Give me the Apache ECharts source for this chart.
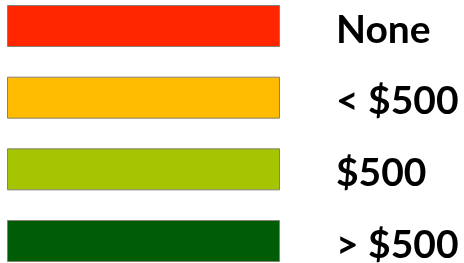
<!DOCTYPE html>
<html>
<head>
<meta charset="utf-8">
<script src="https://cdn.jsdelivr.net/npm/echarts@6/dist/echarts.min.js"></script>
<style>
  html, body { margin: 0; padding: 0; background: #fff; }
  #chart { width: 464px; height: 263px; }
</style>
</head>
<body>
<div id="chart"></div>
<script>
const labels = ['None', '< $500', '$500', '> $500'];
const values = [1, 1, 1, 1];
const colors = ['#ff2600', '#ffbb00', '#a6c500', '#005c05'];

const chart = echarts.init(document.getElementById('chart'));

chart.setOption({
  animation: false,
  grid: { left: 7, right: 184, top: 26, bottom: 22 },
  xAxis: { type: 'value', min: 0, max: 1, show: false },
  yAxis: {
    type: 'category',
    data: labels,
    inverse: true,
    boundaryGap: false,
    show: false
  },
  series: [{
    type: 'bar',
    barWidth: 42,
    label: {
      show: true,
      position: 'right',
      distance: 56,
      offset: [0, 4],
      formatter: p => p.name,
      color: '#000',
      fontFamily: 'Lato, sans-serif',
      fontWeight: 'bold',
      fontSize: 39
    },
    data: values.map((v, i) => ({
      value: v,
      itemStyle: { color: colors[i], borderColor: '#858078', borderWidth: 1 }
    }))
  }]
});
</script>
</body>
</html>
